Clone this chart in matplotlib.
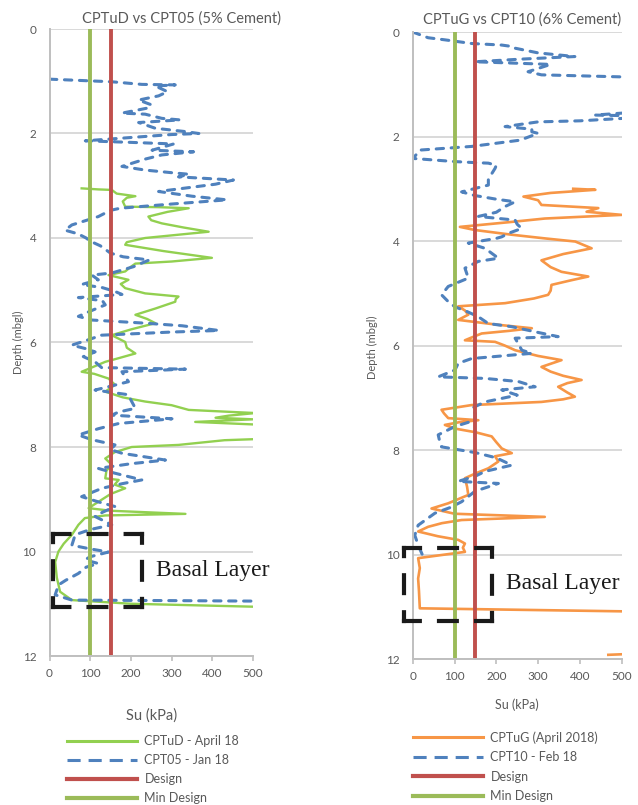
import matplotlib
matplotlib.use("Agg")
import matplotlib.pyplot as plt
from matplotlib.lines import Line2D

plt.rcParams['font.family'] = ['Lato', 'DejaVu Sans']

# ---------------- data (depth in m, Su in kPa) ----------------
# left chart: CPTuD - April 18
cptud_depth = [3.05, 3.07, 3.08, 3.15, 3.20, 3.23, 3.30, 3.40, 3.41, 3.43, 3.50, 3.59, 3.66, 3.72,
               3.80, 3.88, 3.95, 4.00, 4.08, 4.13, 4.25, 4.38, 4.45, 4.49, 4.55, 4.64, 4.71, 4.80,
               4.88, 4.96, 5.06, 5.12, 5.17, 5.22, 5.35, 5.47, 5.55, 5.63, 5.75, 5.86, 5.99, 6.10,
               6.21, 6.30, 6.37, 6.56, 6.60, 6.69, 6.81, 6.94, 7.05, 7.13, 7.20, 7.29, 7.33, 7.35,
               7.40, 7.44, 7.47, 7.52, 7.57, 7.60, 7.84, 7.87, 7.96, 8.00, 8.10, 8.22, 8.34, 8.45,
               8.60, 8.63, 8.72, 8.79, 8.90, 9.05, 9.17, 9.22, 9.28, 9.31, 9.36, 9.49, 9.68, 9.85,
               10.00, 10.20, 10.50, 10.77, 10.93, 11.00, 11.06]
cptud_su = [79, 120, 153, 165, 211, 190, 180, 186, 268, 342, 290, 243, 250, 276,
            330, 391, 300, 235, 190, 186, 280, 399, 300, 211, 200, 186, 145, 194,
            175, 186, 235, 317, 310, 309, 260, 211, 240, 260, 200, 153, 186, 190,
            211, 170, 137, 79, 110, 145, 161, 137, 180, 235, 300, 342, 450, 506,
            440, 408, 500, 358, 506, 540, 540, 430, 317, 202, 160, 137, 153, 140,
            137, 170, 160, 186, 150, 120, 96, 150, 334, 137, 87, 71, 55, 35,
            22, 14, 18, 26, 55, 200, 520]

# left chart: CPT05 - Jan 18
cpt05_depth = [0.96, 1.01, 1.06, 1.07, 1.09, 1.20, 1.28, 1.36, 1.45, 1.51, 1.61, 1.63, 1.71, 1.74,
               1.79, 1.90, 1.96, 2.00, 2.02, 2.14, 2.17, 2.20, 2.32, 2.35, 2.41, 2.49, 2.63, 2.70,
               2.75, 2.78, 2.83, 2.89, 2.97, 3.11, 3.20, 3.27, 3.35, 3.43, 3.47, 3.59, 3.75, 3.85,
               3.92, 4.00, 4.06, 4.15, 4.29, 4.36, 4.42, 4.55, 4.67, 4.71, 4.80, 4.89, 4.95, 5.02,
               5.08, 5.14, 5.20, 5.28, 5.40, 5.50, 5.57, 5.63, 5.68, 5.77, 5.80, 5.86, 5.97, 6.05,
               6.12, 6.18, 6.27, 6.37, 6.48, 6.51, 6.56, 6.65, 6.75, 6.91, 7.00, 7.10, 7.26, 7.33,
               7.39, 7.46, 7.55, 7.65, 7.77, 7.86, 7.96, 8.05, 8.12, 8.25, 8.32, 8.41, 8.50, 8.63,
               8.70, 8.79, 8.95, 9.05, 9.14, 9.25, 9.33, 9.49, 9.58, 9.68, 9.88, 9.95, 10.01, 10.10,
               10.16, 10.23, 10.30, 10.42, 10.55, 10.64, 10.83, 10.93, 10.94, 10.95]
cpt05_su = [0, 153, 227, 309, 260, 290, 268, 219, 250, 243, 178, 235, 276, 321,
            219, 260, 330, 367, 300, 88, 200, 305, 252, 354, 276, 235, 178, 235,
            300, 342, 317, 452, 408, 268, 350, 436, 300, 174, 150, 120, 55, 38,
            70, 90, 100, 125, 150, 181, 245, 206, 153, 104, 120, 79, 130, 160,
            178, 71, 130, 137, 100, 71, 104, 235, 326, 416, 300, 128, 87, 55,
            90, 112, 83, 112, 128, 334, 178, 185, 194, 112, 194, 200, 211, 170,
            153, 301, 170, 120, 71, 104, 161, 150, 178, 285, 200, 120, 160, 227,
            180, 129, 79, 120, 161, 130, 112, 153, 100, 63, 55, 100, 145, 100,
            87, 120, 90, 71, 40, 22, 14, 55, 300, 520]

# right chart: CPTuG (April 2018)
cptug_depth = [3.00, 3.02, 3.08, 3.15, 3.22, 3.31, 3.37, 3.44, 3.50, 3.57, 3.64, 3.69, 3.73, 3.79,
               3.88, 3.95, 4.01, 4.14, 4.25, 4.37, 4.50, 4.59, 4.68, 4.75, 4.84, 4.95, 5.03, 5.10,
               5.19, 5.25, 5.33, 5.41, 5.51, 5.60, 5.67, 5.72, 5.77, 5.85, 5.90, 5.93, 6.00, 6.09,
               6.20, 6.28, 6.35, 6.41, 6.50, 6.58, 6.66, 6.72, 6.79, 6.90, 6.98, 7.03, 7.08, 7.14,
               7.23, 7.30, 7.39, 7.43, 7.47, 7.52, 7.59, 7.66, 7.74, 7.85, 7.97, 8.06, 8.12, 8.22,
               8.35, 8.45, 8.54, 8.70, 8.86, 9.02, 9.12, 9.22, 9.28, 9.34, 9.40, 9.47, 9.56, 9.65,
               9.72, 9.79, 9.87, 9.95, 10.07, 10.26, 10.46, 10.70, 11.03, 11.09, 11.90, 11.92]
cptug_su = [384, 437, 330, 265, 300, 308, 444, 416, 500, 316, 230, 165, 113, 149,
            237, 316, 389, 428, 360, 308, 330, 356, 420, 380, 332, 330, 324, 290,
            221, 109, 125, 133, 109, 200, 285, 230, 165, 140, 125, 197, 220, 245,
            300, 356, 330, 308, 330, 360, 404, 370, 348, 370, 388, 360, 308, 141,
            69, 75, 85, 157, 110, 77, 101, 150, 189, 200, 213, 237, 197, 205,
            181, 150, 125, 130, 133, 85, 45, 100, 316, 117, 70, 37, 13, 60,
            109, 125, 120, 125, 13, 17, 13, 15, 17, 520, 530, 468]

# right chart: CPT10 - Feb 18
cpt10_depth = [0.00, 0.11, 0.15, 0.22, 0.25, 0.28, 0.31, 0.40, 0.47, 0.52, 0.57, 0.62, 0.76, 0.82,
               0.86, 0.87, 1.50, 1.55, 1.59, 1.60, 1.65, 1.70, 1.72, 1.81, 1.86, 1.91, 1.94, 2.07,
               2.19, 2.26, 2.42, 2.48, 2.50, 2.51, 2.55, 2.61, 2.70, 2.83, 2.93, 3.06, 3.13, 3.20,
               3.25, 3.34, 3.45, 3.53, 3.60, 3.68, 3.76, 3.85, 3.92, 3.95, 4.04, 4.14, 4.33, 4.39,
               4.52, 4.71, 4.87, 5.03, 5.16, 5.26, 5.35, 5.45, 5.58, 5.64, 5.75, 5.83, 5.86, 6.00,
               6.09, 6.15, 6.25, 6.34, 6.47, 6.60, 6.63, 6.69, 6.79, 6.85, 6.95, 7.08, 7.20, 7.30,
               7.43, 7.55, 7.71, 7.85, 7.94, 8.05, 8.15, 8.29, 8.41, 8.50, 8.60, 8.64, 8.79, 8.99,
               9.10, 9.21, 9.44, 9.63, 9.82, 10.04, 10.08]
cpt10_su = [0, 37, 77, 141, 213, 240, 245, 300, 388, 257, 149, 330, 276, 308,
            505, 560, 560, 505, 436, 500, 510, 400, 300, 221, 285, 285, 300, 257,
            141, 17, 1, 101, 149, 181, 200, 197, 190, 181, 181, 117, 149, 200,
            245, 221, 200, 157, 245, 250, 261, 230, 213, 200, 133, 173, 205, 157,
            125, 133, 85, 69, 85, 101, 130, 157, 181, 237, 300, 348, 245, 255,
            261, 285, 141, 109, 101, 61, 173, 253, 293, 213, 250, 173, 141, 150,
            149, 101, 61, 65, 69, 150, 200, 237, 173, 150, 109, 205, 149, 117,
            90, 53, 13, 5, 13, 25, 30]

design_su = [150, 150]
min_design_su = [100, 100]
design_depth = [0, 12]

x_ticks = [0, 100, 200, 300, 400, 500]
y_ticks = [0, 2, 4, 6, 8, 10, 12]

# ---------------- styling ----------------
C_GREEN = '#92D050'
C_BLUE = '#4F81BD'
C_RED = '#C0504D'
C_MIN = '#9BBB59'
C_ORANGE = '#F79646'
C_TXT = '#595959'
C_GRID = '#D9D9D9'
C_AX = '#BFBFBF'

W, H = 638, 805
fig = plt.figure(figsize=(W / 100, H / 100), dpi=100)


def px_axes(x0, x1, y0, y1):
    return fig.add_axes([x0 / W, 1 - y1 / H, (x1 - x0) / W, (y1 - y0) / H])


def style_axes(ax):
    ax.set_xlim(0, 500)
    ax.set_ylim(12, 0)
    ax.set_xticks(x_ticks)
    ax.set_yticks(y_ticks)
    ax.yaxis.grid(True, color=C_GRID, lw=1.4)
    ax.set_axisbelow(True)
    for s in ['top', 'right']:
        ax.spines[s].set_visible(False)
    for s in ['left', 'bottom']:
        ax.spines[s].set_color(C_AX)
        ax.spines[s].set_linewidth(1.4)
    ax.tick_params(axis='y', length=0, pad=9.5, labelcolor=C_TXT, labelsize=8.5)
    ax.tick_params(axis='x', length=3.6, width=1.2, color=C_AX, pad=5,
                   labelcolor=C_TXT, labelsize=8.5)


def dashed(ax, x, y):
    ax.plot(x, y, color=C_BLUE, lw=2.2, linestyle=(0, (2.4, 2.5)),
            dash_capstyle='round')


def design_lines(ax):
    ax.plot(design_su, design_depth, color=C_RED, lw=2.8, solid_capstyle='butt')
    ax.plot(min_design_su, design_depth, color=C_MIN, lw=2.8, solid_capstyle='butt')


def dashed_edge(ax, p, q, lw=3.0, dash_px=22, gap_px=15):
    # dash pattern centred on the edge so that every corner gets a dash
    a = ax.transData.transform(p)
    b = ax.transData.transform(q)
    L = ((a[0] - b[0]) ** 2 + (a[1] - b[1]) ** 2) ** 0.5
    lw_px = lw * 100 / 72
    on = (dash_px - lw_px) / lw_px
    off = (gap_px + lw_px) / lw_px
    period = (on + off) * lw_px
    off_px = (on * lw_px / 2 - L / 2) % period
    ax.plot([p[0], q[0]], [p[1], q[1]], color='#1a1a1a', lw=lw,
            linestyle=(off_px / lw_px, (on, off)), dash_capstyle='projecting',
            clip_on=False, zorder=6)


def basal(ax, x0, x1, d0, d1, tx, ty):
    corners = [(x0, d0), (x1, d0), (x1, d1), (x0, d1)]
    for i in range(4):
        dashed_edge(ax, corners[i], corners[(i + 1) % 4])
    ax.text(tx, ty, 'Basal Layer', family='Liberation Serif', fontsize=17,
            color='#1a1a1a', ha='left', va='center', zorder=7)


# ---------------- left chart ----------------
ax1 = px_axes(49.5, 253, 29, 656)
style_axes(ax1)
ax1.plot(cptud_su, cptud_depth, color=C_GREEN, lw=1.7)
dashed(ax1, cpt05_su, cpt05_depth)
design_lines(ax1)
basal(ax1, 9, 228, 9.66, 11.07, 262, 10.37)
fig.text(181.5 / W, 1 - 19 / H, 'CPTuD vs CPT05 (5% Cement)', ha='center', va='center',
         color=C_TXT, fontsize=10.5)
fig.text(152 / W, 1 - 716 / H, 'Su (kPa)', ha='center', va='center', color=C_TXT, fontsize=10.5)
fig.text(18 / W, 1 - 342 / H, 'Depth (mbgl)', ha='center', va='center', rotation=90,
         color=C_TXT, fontsize=8)

# ---------------- right chart ----------------
ax2 = px_axes(412.7, 621.7, 32, 659)
style_axes(ax2)
ax2.plot(cptug_su, cptug_depth, color=C_ORANGE, lw=1.9)
dashed(ax2, cpt10_su, cpt10_depth)
design_lines(ax2)
basal(ax2, -22, 189, 9.87, 11.28, 223, 10.55)
fig.text(522.5 / W, 1 - 20 / H, 'CPTuG vs CPT10 (6% Cement)', ha='center', va='center',
         color=C_TXT, fontsize=10.5)
fig.text(517 / W, 1 - 705 / H, 'Su (kPa)', ha='center', va='center', color=C_TXT, fontsize=9)
fig.text(372 / W, 1 - 347 / H, 'Depth (mbgl)', ha='center', va='center', rotation=90,
         color=C_TXT, fontsize=8)

# ---------------- legends ----------------
def legend(handles, labels, x, y, spacing):
    lg = fig.legend(handles, labels, loc='upper left', bbox_to_anchor=(x / W, 1 - y / H),
                    frameon=False, borderpad=0, borderaxespad=0, fontsize=9,
                    handlelength=5.6, handletextpad=0.6, labelspacing=spacing)
    for t in lg.get_texts():
        t.set_color(C_TXT)


def leg_handles(first):
    return [Line2D([], [], color=first, lw=2.2),
            Line2D([], [], color=C_BLUE, lw=2.2, linestyle=(0, (4.3, 2.6))),
            Line2D([], [], color=C_RED, lw=3),
            Line2D([], [], color=C_MIN, lw=3)]


legend(leg_handles(C_GREEN), ['CPTuD - April 18', 'CPT05 - Jan 18', 'Design', 'Min Design'],
       67, 735, 0.56)
legend(leg_handles(C_ORANGE), ['CPTuG (April 2018)', 'CPT10 - Feb 18', 'Design', 'Min Design'],
       413, 731, 0.6)

fig.savefig('out.png', dpi=100)
